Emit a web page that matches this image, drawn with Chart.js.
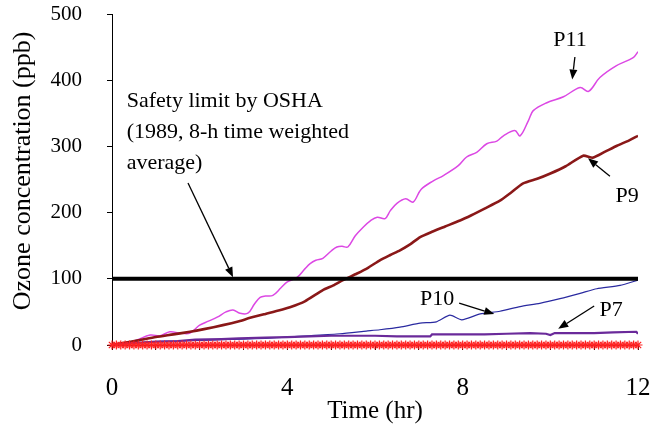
<!DOCTYPE html>
<html>
<head>
<meta charset="utf-8">
<script src="https://cdn.jsdelivr.net/npm/chart.js@4"></script>
<style>
html,body{margin:0;padding:0;background:#fff;}
#wrap{width:651px;height:429px;position:relative;}
</style>
</head>
<body>
<div id="wrap"><canvas id="c" width="651" height="429"></canvas></div>
<script>
// ---- Data ----
const xTickLabels = ['0', '4', '8', '12'];
const yTickLabels = ['0', '100', '200', '300', '400', '500'];

const p11Time = [0,0.5,0.87,1.1,1.32,1.55,1.78,2.0,2.2,2.4,2.6,2.76,2.92,3.1,3.25,3.38,3.5,3.67,3.85,3.99,4.22,4.4,4.52,4.65,4.81,5.0,5.13,5.25,5.38,5.55,5.73,5.9,6.05,6.23,6.35,6.5,6.7,6.87,7.05,7.33,7.56,7.9,8.09,8.32,8.55,8.78,8.93,9.19,9.31,9.5,9.61,9.92,10.3,10.68,10.87,11.13,11.51,11.89,12.0];
const p11Ozone = [0,6,15,14,20,18,18,30,36,42,50,53,48,48,62,72,74,75,86,95,102,115,123,128,131,142,148,149,148,165,178,188,193,191,203,214,221,216,235,248,256,271,284,291,304,308,316,324,316,339,354,366,375,389,383,404,422,434,443];

const p9Time = [0,0.25,0.6,1.0,1.4,1.78,2.1,2.53,2.9,3.15,3.5,3.8,4.06,4.4,4.81,5.05,5.27,5.59,5.85,6.11,6.35,6.57,6.8,7.03,7.3,7.6,7.94,8.2,8.5,8.85,9.1,9.38,9.7,10.0,10.35,10.75,10.97,11.25,11.52,11.8,12.0];
const p9Ozone = [0,3,7,12,16,20,24,30,36,41,47,52,57,66,83,90,98,108,117,128,136,143,152,163,171,179,188,196,206,218,230,244,251,259,270,286,283,292,301,309,316];

const p10Time = [0,0.5,1,1.5,2,2.5,3,3.5,4,4.5,5.2,5.8,6.11,6.57,7.03,7.4,7.71,7.98,8.4,8.85,9.31,9.76,10.22,10.68,11.06,11.59,12.0];
const p10Ozone = [0,3,5,6,7,8,9,10,12,14,17,21,23,27,33,35,45,38,47,51,58,63,70,78,85,90,98];

const p7Time = [0,0.5,1,1.5,1.9,2.5,2.9,3.5,4,4.5,5,5.5,6,6.5,7,7.26,7.3,8,8.5,9,9.54,9.9,10.0,10.1,10.5,11,11.43,11.96,12.0];
const p7Ozone = [0,3,5,6,8,9,10,11,12,13,14,14,14,13,13,13,16,16,16,17,18,17,15,18,18,18,19,20,17];

const blankTime = [0,0.1,0.2,0.3,0.4,0.5,0.6,0.7,0.8,0.9,1,1.1,1.2,1.3,1.4,1.5,1.6,1.7,1.8,1.9,2,2.1,2.2,2.3,2.4,2.5,2.6,2.7,2.8,2.9,3,3.1,3.2,3.3,3.4,3.5,3.6,3.7,3.8,3.9,4,4.1,4.2,4.3,4.4,4.5,4.6,4.7,4.8,4.9,5,5.1,5.2,5.3,5.4,5.5,5.6,5.7,5.8,5.9,6,6.1,6.2,6.3,6.4,6.5,6.6,6.7,6.8,6.9,7,7.1,7.2,7.3,7.4,7.5,7.6,7.7,7.8,7.9,8,8.1,8.2,8.3,8.4,8.5,8.6,8.7,8.8,8.9,9,9.1,9.2,9.3,9.4,9.5,9.6,9.7,9.8,9.9,10,10.1,10.2,10.3,10.4,10.5,10.6,10.7,10.8,10.9,11,11.1,11.2,11.3,11.4,11.5,11.6,11.7,11.8,11.9,12];
const blankOzone = [0,0,0,0,0,0,0,0,0,0,0,0,0,0,0,0,0,0,0,0,0,0,0,0,0,0,0,0,0,0,0,0,0,0,0,0,0,0,0,0,0,0,0,0,0,0,0,0,0,0,0,0,0,0,0,0,0,0,0,0,0,0,0,0,0,0,0,0,0,0,0,0,0,0,0,0,0,0,0,0,0,0,0,0,0,0,0,0,0,0,0,0,0,0,0,0,0,0,0,0,0,0,0,0,0,0,0,0,0,0,0,0,0,0,0,0,0,0,0,0,0];

const oshaTime = [0, 12];
const oshaLimit = [100, 100];

function pts(xs, ys){ return xs.map((x,i)=>({x:x, y:ys[i]})); }

const SERIF = '"Liberation Serif", "Times New Roman", serif';
const yTitleText = 'Ozone concentration (ppb)';

// annotations drawn in data coordinates
const annotations = {
  osha: { t:0.335, lines:[{v:359, s:'Safety limit by OSHA'},{v:313, s:'(1989, 8-h time weighted'},{v:266, s:'average)'}] },
  arrows: [
    {from:[1.734,244.7], to:[2.761,102.5]},
    {from:[10.56,435], to:[10.50,401]},
    {from:[11.36,255], to:[10.86,282]},
    {from:[7.92,63.4], to:[8.72,46.8]},
    {from:[11.0,58.9], to:[10.18,24.5]}
  ],
  labels: [
    {t:10.45, v:460.7, s:'P11'},
    {t:11.75, v:225, s:'P9'},
    {t:7.415, v:69.5, s:'P10'},
    {t:11.385, v:52.9, s:'P7'}
  ]
};

const annotPlugin = {
  id:'annot',
  afterDatasetsDraw(chart){
    const {ctx, scales:{x, y}} = chart;
    ctx.save();
    ctx.fillStyle = '#000';
    ctx.strokeStyle = '#000';
    // y axis title (rotated), placed slightly above the plot centre as in the reference
    ctx.save();
    ctx.font = '26px ' + SERIF;
    ctx.textAlign = 'center';
    ctx.textBaseline = 'middle';
    ctx.translate(23, y.getPixelForValue(263));
    ctx.rotate(-Math.PI/2);
    ctx.fillText(yTitleText, 0, 0);
    ctx.restore();

    ctx.font = '22px ' + SERIF;
    ctx.textAlign = 'left';
    ctx.textBaseline = 'alphabetic';
    annotations.osha.lines.forEach(l=>{
      ctx.fillText(l.s, x.getPixelForValue(annotations.osha.t), y.getPixelForValue(l.v));
    });
    ctx.textAlign = 'center';
    ctx.textBaseline = 'middle';
    annotations.labels.forEach(l=>{
      ctx.fillText(l.s, x.getPixelForValue(l.t), y.getPixelForValue(l.v));
    });
    annotations.arrows.forEach(a=>{
      const x1 = x.getPixelForValue(a.from[0]), y1 = y.getPixelForValue(a.from[1]);
      const x2 = x.getPixelForValue(a.to[0]), y2 = y.getPixelForValue(a.to[1]);
      const ang = Math.atan2(y2-y1, x2-x1);
      const L = 10, W = 4;
      const bx = x2 - L*Math.cos(ang), by = y2 - L*Math.sin(ang);
      ctx.lineWidth = 1.3;
      ctx.beginPath(); ctx.moveTo(x1,y1); ctx.lineTo(bx,by); ctx.stroke();
      ctx.beginPath();
      ctx.moveTo(x2,y2);
      ctx.lineTo(bx + W*Math.sin(ang), by - W*Math.cos(ang));
      ctx.lineTo(bx - W*Math.sin(ang), by + W*Math.cos(ang));
      ctx.closePath(); ctx.fill();
    });
    ctx.restore();
  }
};

new Chart(document.getElementById('c'), {
  type:'line',
  data:{
    datasets:[
      {label:'Blank', data:pts(blankTime, blankOzone), borderColor:'#ff1a1a', borderWidth:1.2, clip:false,
       pointStyle:'star', pointRadius:4.5, pointBorderColor:'#ff2020', pointBorderWidth:1.2, pointBackgroundColor:'#ff2020', order:1},
      {label:'OSHA', data:pts(oshaTime, oshaLimit), borderColor:'#000', borderWidth:4, pointRadius:0, order:2},
      {label:'P7', data:pts(p7Time, p7Ozone), borderColor:'#6a2a9a', borderWidth:2.2, pointRadius:0, order:3},
      {label:'P10', data:pts(p10Time, p10Ozone), borderColor:'#2a2aa0', borderWidth:1.2, pointRadius:0, tension:0.2, order:4},
      {label:'P9', data:pts(p9Time, p9Ozone), borderColor:'#8a1818', borderWidth:2.6, pointRadius:0, tension:0.2, order:5},
      {label:'P11', data:pts(p11Time, p11Ozone), borderColor:'#dc48e4', borderWidth:1.5, pointRadius:0, tension:0.35, order:6}
    ]
  },
  options:{
    responsive:false,
    animation:false,
    events:[],
    layout:{padding:{left:0, right:13, top:14, bottom:0}},
    plugins:{legend:{display:false}, tooltip:{enabled:false}},
    scales:{
      x:{
        type:'linear', min:0, max:12,
        afterFit(s){ s.height = 84; s.paddingLeft = 0; s.paddingRight = 0; s.paddingTop = 0; s.paddingBottom = 0; },
        border:{display:true, color:'#000', width:1},
        grid:{display:true, drawOnChartArea:false, drawTicks:true, tickLength:5, color:'#000', lineWidth:1},
        ticks:{stepSize:1, padding:23, color:'#000', font:{family:SERIF, size:25}, maxRotation:0, autoSkip:false,
          callback(v){ const s = String(v); return xTickLabels.includes(s) ? s : ''; }},
        title:{display:true, text:'Time (hr)', color:'#000', font:{family:SERIF, size:25}, padding:{top:0, bottom:3}}
      },
      y:{
        type:'linear', min:0, max:500,
        afterFit(s){ s.width = 112; s.paddingLeft = 0; s.paddingRight = 0; s.paddingTop = 0; s.paddingBottom = 0; },
        border:{display:true, color:'#000', width:1},
        grid:{display:true, drawOnChartArea:false, drawTicks:true, tickLength:5, color:'#000', lineWidth:1},
        ticks:{stepSize:100, padding:25, color:'#000', font:{family:SERIF, size:21},
          callback(v){ const s = String(v); return yTickLabels.includes(s) ? s : ''; }},
        title:{display:false}
      }
    }
  },
  plugins:[annotPlugin]
});
</script>
</body>
</html>
